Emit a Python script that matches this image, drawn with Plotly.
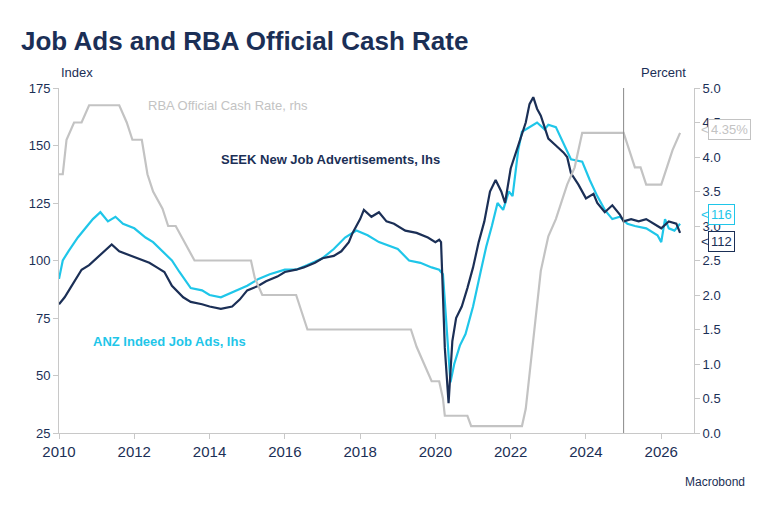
import plotly.graph_objects as go

seek_x = [2010.0,2010.15,2010.3,2010.45,2010.6,2010.8,2011.0,2011.2,2011.4,2011.6,2011.9,2012.2,2012.4,2012.6,2012.8,2013.0,2013.3,2013.5,2013.8,2014.0,2014.3,2014.6,2014.8,2015.0,2015.3,2015.5,2015.8,2016.0,2016.3,2016.5,2016.8,2017.0,2017.3,2017.5,2017.7,2017.8,2018.0,2018.1,2018.3,2018.5,2018.7,2018.9,2019.1,2019.2,2019.5,2019.8,2020.0,2020.1,2020.15,2020.25,2020.35,2020.45,2020.55,2020.7,2020.85,2021.0,2021.15,2021.3,2021.45,2021.6,2021.75,2021.85,2022.0,2022.1,2022.2,2022.3,2022.4,2022.5,2022.6,2022.7,2022.8,2022.9,2023.0,2023.2,2023.4,2023.5,2023.6,2023.8,2024.0,2024.2,2024.3,2024.5,2024.7,2024.9,2025.0,2025.2,2025.4,2025.6,2025.8,2026.0,2026.2,2026.4,2026.5]
seek_y = [81,84,88,92,96,98,101,104,107,104,102,100,99,97,95,89,84,82,81,80,79,80,83,87,89,91,93,95,96,97,99,101,102,104,108,112,118,122,119,121,117,116,114,113,112,110,108,109,108,62,38,65,75,80,88,97,108,117,130,135,130,125,140,145,150,155,160,168,171,166,163,158,153,150,147,145,138,133,127,129,125,121,124,120,117,118,117,118,116,114,117,116,112]

anz_x = [2010.0,2010.1,2010.25,2010.5,2010.7,2010.9,2011.1,2011.3,2011.5,2011.7,2012.0,2012.3,2012.5,2012.8,2013.0,2013.2,2013.5,2013.8,2014.0,2014.3,2014.6,2015.0,2015.3,2015.6,2016.0,2016.3,2016.6,2017.0,2017.3,2017.6,2017.9,2018.2,2018.5,2018.8,2019.0,2019.3,2019.6,2019.9,2020.1,2020.2,2020.3,2020.4,2020.5,2020.65,2020.8,2021.0,2021.2,2021.35,2021.5,2021.65,2021.8,2021.95,2022.05,2022.2,2022.3,2022.5,2022.7,2022.9,2023.0,2023.2,2023.4,2023.6,2023.9,2024.1,2024.3,2024.5,2024.7,2024.9,2025.1,2025.3,2025.6,2025.9,2026.0,2026.1,2026.2,2026.35,2026.5]
anz_y = [92,100,104,110,114,118,121,117,119,116,114,110,108,103,100,95,88,87,85,84,86,89,92,94,96,96,98,101,105,110,113,111,108,106,105,100,99,97,96,94,72,47,55,63,68,80,95,106,115,125,122,130,128,148,156,158,160,157,159,158,151,144,143,135,128,122,118,119,116,115,114,111,108,118,114,113,116]

rba_x = [2010.0,2010.1,2010.2,2010.4,2010.6,2010.8,2011.0,2011.6,2011.8,2011.95,2012.2,2012.35,2012.5,2012.75,2012.9,2013.1,2013.35,2013.6,2015.1,2015.2,2015.4,2016.3,2016.45,2016.6,2019.35,2019.5,2019.7,2019.9,2020.1,2020.2,2020.25,2020.85,2020.95,2022.3,2022.4,2022.5,2022.6,2022.7,2022.8,2022.9,2023.0,2023.2,2023.35,2023.5,2023.7,2023.9,2025.0,2025.15,2025.3,2025.45,2025.6,2025.8,2026.0,2026.15,2026.3,2026.5]
rba_y = [3.75,3.75,4.25,4.5,4.5,4.75,4.75,4.75,4.5,4.25,4.25,3.75,3.5,3.25,3.0,3.0,2.75,2.5,2.5,2.25,2.0,2.0,1.75,1.5,1.5,1.25,1.0,0.75,0.75,0.5,0.25,0.25,0.1,0.1,0.35,0.85,1.35,1.85,2.35,2.6,2.85,3.1,3.35,3.6,3.85,4.35,4.35,4.1,3.85,3.85,3.6,3.6,3.6,3.85,4.1,4.35]

NAVY = "#1b2f56"; CYAN = "#1fc6e9"; GRAY = "#c3c3c3"

fig = go.Figure()
fig.add_trace(go.Scatter(x=rba_x, y=rba_y, yaxis="y2", mode="lines", line=dict(color=GRAY, width=2.2)))
fig.add_trace(go.Scatter(x=anz_x, y=anz_y, mode="lines", line=dict(color=CYAN, width=2.2)))
fig.add_trace(go.Scatter(x=seek_x, y=seek_y, mode="lines", line=dict(color=NAVY, width=2.2)))

fig.add_shape(type="line", x0=2025.0, x1=2025.0, y0=0, y1=1, yref="paper", line=dict(color="#888888", width=1))

fig.add_annotation(text="RBA Official Cash Rate, rhs", x=2012.3, y=4.74, yref="y2", xanchor="left", showarrow=False, font=dict(color=GRAY, size=13))
fig.add_annotation(text="<b>SEEK New Job Advertisements, lhs</b>", x=2014.25, y=144, xanchor="left", showarrow=False, font=dict(color=NAVY, size=13))
fig.add_annotation(text="<b>ANZ Indeed Job Ads, lhs</b>", x=2010.85, y=65, xanchor="left", showarrow=False, font=dict(color=CYAN, size=13))

for txt, yv, col, ref, ys in [("4.35%", 4.35, GRAY, "y2", 3), ("116", 116, CYAN, "y", 9), ("112", 112, NAVY, "y", -9)]:
    fig.add_annotation(x=1.0, xref="paper", y=yv, yref=ref, text=txt, showarrow=False, xanchor="left", yshift=ys,
                       xshift=14, font=dict(color=col, size=13), bordercolor=col, borderwidth=1, bgcolor="white", borderpad=2)
    fig.add_annotation(x=1.0, xref="paper", y=yv, yref=ref, text="<", showarrow=False, xanchor="left", yshift=ys,
                       xshift=5, font=dict(color=col, size=13))

fig.add_annotation(text="<b>Job Ads and RBA Official Cash Rate</b>", x=-0.063, y=1.0, xref="paper", yref="paper", xanchor="left",
                   yanchor="bottom", yshift=30, showarrow=False, font=dict(size=26, color=NAVY, family="Arial"))
fig.add_annotation(text="Index", x=0, y=1, xref="paper", yref="paper", xanchor="left", yanchor="bottom", yshift=6, showarrow=False, font=dict(size=13, color=NAVY))
fig.add_annotation(text="Percent", x=0.913, y=1, xref="paper", yref="paper", xanchor="left", yanchor="bottom", yshift=6, showarrow=False, font=dict(size=13, color=NAVY))
fig.add_annotation(text="Macrobond", x=1.083, y=0, xref="paper", yref="paper", xanchor="right", yanchor="top", yshift=-40, showarrow=False, font=dict(size=12, color=NAVY))

ax = dict(showgrid=False, showline=True, linecolor="#c8c8c8", ticks="outside", tickcolor="#c8c8c8", ticklen=5, zeroline=False, automargin=False)
fig.update_layout(
    width=771, height=515, margin=dict(l=51, r=85, t=80, b=90),
    paper_bgcolor="white", plot_bgcolor="white", showlegend=False,
    font=dict(family="Arial, Liberation Sans", color=NAVY),
    xaxis=dict(range=[2010, 2026.87], tickvals=list(range(2010, 2027, 2)), tickformat="d", tickfont=dict(size=15), **ax),
    yaxis=dict(range=[25, 175], tickvals=list(range(25, 176, 25)), tickfont=dict(size=13), **ax),
    yaxis2=dict(range=[0, 5], overlaying="y", side="right", tickvals=[i*0.5 for i in range(11)], tickformat=".1f",
                tickfont=dict(size=13), **ax),
)
fig.write_html("out.html")
